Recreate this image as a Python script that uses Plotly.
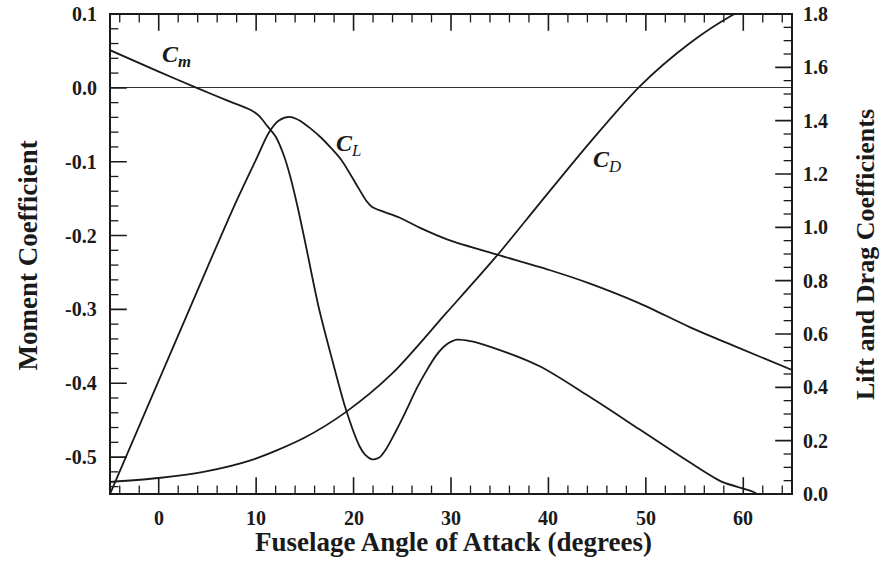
import numpy as np
import plotly.graph_objects as go

# ---- data ----
cm_alpha = [-5, 0, 3.9, 7, 9.45, 10.3, 11.1, 12.0, 12.8, 13.5, 14.2, 15.0, 16.4, 17.8, 19.2,
            20.6, 21.2, 21.9, 22.6, 23.3, 24.3, 25.4, 26.4, 27.4, 28.5, 29.5, 30.6, 32.0,
            33.9, 39.1, 44.2, 49.3, 54.5, 57.9, 61.0, 63.0]
cm_vals = [0.051, 0.022, 0.0, -0.017, -0.030, -0.038, -0.051, -0.066, -0.090, -0.120, -0.158,
           -0.207, -0.296, -0.368, -0.435, -0.485, -0.497, -0.503, -0.501, -0.490, -0.466, -0.437,
           -0.409, -0.385, -0.362, -0.348, -0.341, -0.343, -0.350, -0.377, -0.418, -0.462,
           -0.507, -0.534, -0.547, -0.565]

cl_alpha = [-5, 0, 5, 7.7, 10, 11.3, 12.3, 13.4, 14.5, 15.6, 16.7, 17.7, 18.8, 20.3, 21.3, 21.9,
            24.7, 27.0, 29.8, 34.9, 40.1, 44.2, 49.3, 54.5, 59.6, 65]
cl_vals = [0.0, 0.425, 0.85, 1.076, 1.255, 1.355, 1.40, 1.414, 1.40, 1.37, 1.335, 1.297, 1.25,
           1.16, 1.10, 1.076, 1.037, 0.995, 0.952, 0.896, 0.84, 0.79, 0.716, 0.626, 0.547, 0.465]

cd_alpha = [-5, 0, 4.6, 9.5, 14.9, 19.2, 24.0, 29.5, 34.6, 39.1, 44.2, 49.3, 54.5, 58.9, 62.0]
cd_vals = [0.045, 0.06, 0.083, 0.127, 0.21, 0.307, 0.453, 0.678, 0.889, 1.09, 1.316, 1.526,
           1.69, 1.796, 1.85]

left_tickvals = [0.1, 0.0, -0.1, -0.2, -0.3, -0.4, -0.5]
left_ticktext = ["0.1", "0.0", "-0.1", "-0.2", "-0.3", "-0.4", "-0.5"]
right_tickvals = [0.0, 0.2, 0.4, 0.6, 0.8, 1.0, 1.2, 1.4, 1.6, 1.8]
right_ticktext = ["0.0", "0.2", "0.4", "0.6", "0.8", "1.0", "1.2", "1.4", "1.6", "1.8"]
x_tickvals = [0, 10, 20, 30, 40, 50, 60]
x_ticktext = ["0", "10", "20", "30", "40", "50", "60"]

X_RANGE = [-5, 65]
Y_RANGE = [-0.55, 0.1]
Y2_RANGE = [0, 1.8]

FONT = "Liberation Serif"
INK = "#1a1a1a"

# minor tick positions (styling only)
x_minor = [float(v) for v in np.arange(-4, 65, 2) if round(v) % 10 != 0]
y_minor = [round(float(v), 3) for v in np.arange(-0.54, 0.1, 0.02)
           if abs(round(v * 10) - v * 10) > 1e-6]
y2_minor = [round(float(v), 3) for v in np.arange(0.05, 1.8, 0.05)
            if abs(round(v * 5) - v * 5) > 1e-6]

fig = go.Figure()
line = dict(color=INK, width=1.8, shape="spline", smoothing=0.8)
fig.add_trace(go.Scatter(x=cm_alpha, y=cm_vals, mode="lines", line=line, yaxis="y", name="Cm"))
fig.add_trace(go.Scatter(x=cl_alpha, y=cl_vals, mode="lines", line=line, yaxis="y2", name="CL"))
fig.add_trace(go.Scatter(x=cd_alpha, y=cd_vals, mode="lines", line=line, yaxis="y2", name="CD"))

# ---- inside tick marks: line markers sitting on the frame, half clipped by the plot area ----
MAJ, MIN = 24, 12

def tick_trace(xs, ys, symbol, size, width, yaxis="y"):
    return go.Scatter(x=xs, y=ys, mode="markers", yaxis=yaxis, hoverinfo="skip",
                      marker=dict(symbol=symbol, size=size, color=INK,
                                  line=dict(color=INK, width=width)))

for ypos in Y_RANGE:  # bottom and top
    fig.add_trace(tick_trace(x_tickvals, [ypos] * len(x_tickvals), "line-ns", MAJ, 1.6))
    fig.add_trace(tick_trace(x_minor, [ypos] * len(x_minor), "line-ns", MIN, 1.3))
fig.add_trace(tick_trace([X_RANGE[0]] * len(left_tickvals), left_tickvals, "line-ew", MAJ, 1.6))
fig.add_trace(tick_trace([X_RANGE[0]] * len(y_minor), y_minor, "line-ew", MIN, 1.3))
fig.add_trace(tick_trace([X_RANGE[1]] * len(right_tickvals), right_tickvals, "line-ew", MAJ, 1.6, "y2"))
fig.add_trace(tick_trace([X_RANGE[1]] * len(y2_minor), y2_minor, "line-ew", MIN, 1.3, "y2"))

tickfont = dict(family=FONT, size=20, color=INK, weight="bold")
titlefont = dict(family=FONT, size=27, color=INK, weight="bold")

fig.update_layout(
    width=892, height=563,
    margin=dict(l=110, r=100, t=14, b=69),
    paper_bgcolor="white", plot_bgcolor="white",
    showlegend=False,
    xaxis=dict(range=X_RANGE, showticklabels=False, ticks="", showline=False,
               showgrid=False, zeroline=False),
    yaxis=dict(range=Y_RANGE, showticklabels=False, ticks="", showline=False,
               showgrid=False, zeroline=True, zerolinecolor="#333333", zerolinewidth=1.2),
    yaxis2=dict(range=Y2_RANGE, overlaying="y", side="right", showticklabels=False, ticks="",
                showline=False, showgrid=False, zeroline=False),
    shapes=[dict(type="rect", xref="paper", yref="paper", x0=0, x1=1, y0=0, y1=1,
                 line=dict(color=INK, width=2), fillcolor="rgba(0,0,0,0)", layer="above")],
)

# tick labels placed on the axes' own coordinates
for v, t in zip(x_tickvals, x_ticktext):
    fig.add_annotation(x=v, y=-0.051, xref="x", yref="paper", text=t, showarrow=False,
                       xanchor="center", yanchor="middle", font=tickfont, borderpad=0)
for v, t in zip(left_tickvals, left_ticktext):
    fig.add_annotation(x=-0.018, y=v, xref="paper", yref="y", text=t, showarrow=False,
                       xanchor="right", yanchor="middle", font=tickfont, borderpad=0)
for v, t in zip(right_tickvals, right_ticktext):
    fig.add_annotation(x=1.015, y=v, xref="paper", yref="y2", text=t, showarrow=False,
                       xanchor="left", yanchor="middle", font=tickfont, borderpad=0)

# axis titles
fig.add_annotation(x=0.503, y=-0.1, xref="paper", yref="paper", xanchor="center", yanchor="middle",
                   text="Fuselage Angle of Attack (degrees)", showarrow=False,
                   font=dict(titlefont, size=27), borderpad=0)
fig.add_annotation(x=-0.121, y=0.498, xref="paper", yref="paper", xanchor="center", yanchor="middle",
                   text="Moment Coefficient", textangle=-90, showarrow=False, font=titlefont)
fig.add_annotation(x=1.107, y=0.50, xref="paper", yref="paper", xanchor="center", yanchor="middle",
                   text="Lift and Drag Coefficients", textangle=-90, showarrow=False,
                   font=dict(titlefont, size=26))

ann_font = dict(family=FONT, size=24, color=INK)
fig.add_annotation(x=1.8, y=0.043, xref="x", yref="y", text="<b><i>C<sub>m</sub></i></b>",
                   showarrow=False, font=ann_font)
fig.add_annotation(x=19.5, y=1.31, xref="x", yref="y2", text="<b><i>C</i></b><sub><i>L</i></sub>",
                   showarrow=False, font=ann_font)
fig.add_annotation(x=46.0, y=1.25, xref="x", yref="y2", text="<b><i>C</i></b><sub><i>D</i></sub>",
                   showarrow=False, font=ann_font)

fig.write_html("out.html")
